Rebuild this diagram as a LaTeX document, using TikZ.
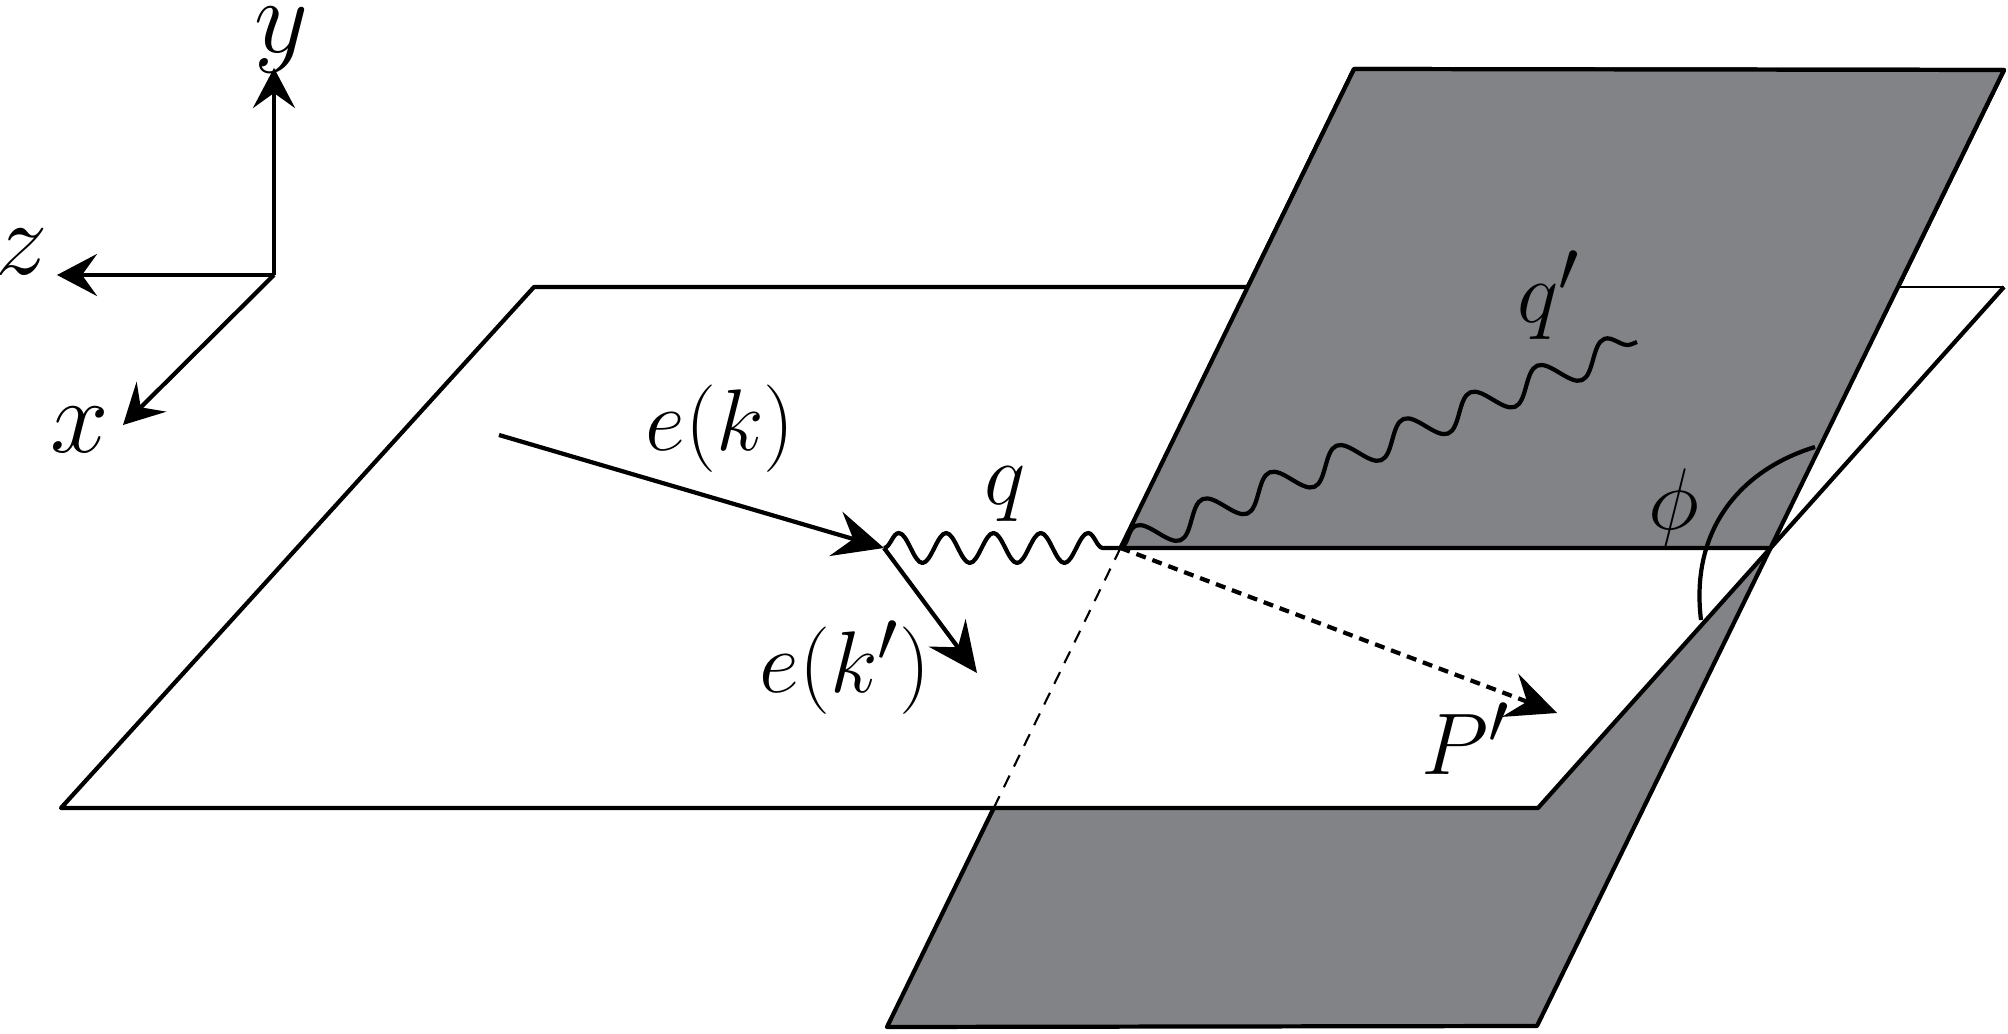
\documentclass[tikz,border=0pt]{standalone}
\usepackage{amsmath}
\usetikzlibrary{arrows.meta, decorations.pathmorphing, calc}
\definecolor{planegray}{RGB}{130,131,135}

\begin{document}
\begin{tikzpicture}
    [x=0.01cm, y=-0.01cm, line join=round,
    >={Stealth[length=5mm, width=4.6mm, inset=1.8mm]},
    plane/.style={draw=black, line width=1.2pt},
    fermion/.style={->, line width=1.2pt},
    axis/.style={-{Stealth[length=4mm, width=4.2mm, inset=1.5mm]}, line width=1.2pt},
    photon/.style={decorate, decoration={snake, segment length=#1, amplitude=1.5mm}, line width=1.2pt},
    photon/.default=4.73mm,
    hidden/.style={line width=0.6pt, dash pattern=on 1.3mm off 1mm},
    lbl/.style={font=\Huge, inner sep=0pt, anchor=base},
    axlbl/.style={font=\Huge, scale=1.2, inner sep=0pt, anchor=base}]

    \useasboundingbox (0,0) rectangle (2008,1034);

    % corners of the two planes
    \coordinate (H1) at (534,287);
    \coordinate (H2) at (2004,287);
    \coordinate (H3) at (1538,808);
    \coordinate (H4) at (61,808);
    \coordinate (T)  at (1880,287);
    \coordinate (V1) at (1354,69);
    \coordinate (V2) at (2004,70);
    \coordinate (V3) at (1537,1026);
    \coordinate (V4) at (887,1027);
    \coordinate (L)  at ($(V1)!0.5!(V4)$);
    \coordinate (R)  at ($(V2)!0.5!(V3)$);
    \coordinate (B)  at ($(V1)!0.7714!(V4)$);

    % tilted plane, then the horizontal one, then the upper half again
    \filldraw[plane, fill=planegray] (V1) -- (V2) -- (V3) -- (V4) -- cycle;
    \fill[white] (H1) -- (H2) -- (H3) -- (H4) -- cycle;
    \draw[plane] (T) -- (H1) -- (H4) -- (H3) -- (H2);
    \draw[line width=0.6pt] (T) -- (H2);
    \filldraw[plane, fill=planegray] (L) -- (V1) -- (V2) -- (R) -- cycle;
    \draw[hidden] (L) -- (B);

    % axes
    \coordinate (O)  at (274,275);
    \coordinate (Ay) at (274,68);
    \coordinate (Az) at (57,275);
    \coordinate (Ax) at (123,425);
    \draw[axis] (O) -- (Ay);
    \draw[axis] (O) -- (Az);
    \draw[axis] (O) -- (Ax);
    \node[axlbl] (ylbl) at (281,53)  {$y$};
    \node[axlbl] (zlbl) at (22,275)  {$z$};
    \node[axlbl] (xlbl) at (80,453)  {$x$};

    % electron and photons
    \coordinate (ein)  at (499,435);
    \coordinate (vtx)  at (884,548);
    \coordinate (eout) at (977,673);
    \coordinate (qend) at (1637,342);
    \coordinate (Ptip) at (1557,713);
    \draw[fermion] (ein) -- (vtx);
    \draw[fermion] (vtx) -- (eout);
    \draw[photon] (vtx) -- (L);
    \draw[photon=7.2mm] (L) -- (qend);
    \draw[->, line width=1.2pt, dash pattern=on 1mm off 0.7mm] (L) -- (Ptip);

    % angle between the planes
    \coordinate (phiA) at (1815,447);
    \coordinate (phiB) at (1701,620);
    \draw[line width=1.2pt] (phiA) .. controls (1740,470) and (1690,530) .. (phiB);

    \node[lbl] (ek)   at (720,451)  {$e(k)$};
    \node[lbl] (ekp)  at (845,693)  {$e(k')$};
    \node[lbl] (q)    at (1005,505) {$q$};
    \node[lbl] (qp)   at (1549,323) {$q'$};
    \node[lbl] (Pp)   at (1466,775) {$P'$};
    \node[lbl] (phi)  at (1674,530) {$\phi$};
\end{tikzpicture}
\end{document}
